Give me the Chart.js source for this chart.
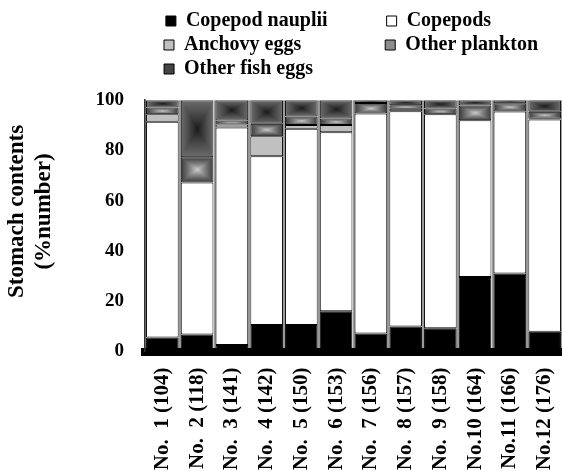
<!DOCTYPE html>
<html>
<head>
<meta charset="utf-8">
<script src="https://cdn.jsdelivr.net/npm/chart.js@4.4.1/dist/chart.umd.min.js"></script>
<style>
  body { margin: 0; background: #fff; }
  canvas { display: block; }
</style>
</head>
<body>
<canvas id="myChart" width="562" height="471"></canvas>
<script>
var CATEGORIES = ["No.  1 (104)","No.  2 (118)","No.  3 (141)","No.  4 (142)","No.  5 (150)","No.  6 (153)",
                  "No.  7 (156)","No.  8 (157)","No.  9 (158)","No.10 (164)","No.11 (166)","No.12 (176)"]
var SERIES_NAMES = ["Copepod nauplii","Copepods","Anchovy eggs","Other plankton","Other fish eggs"]
var NAUPLII  = [5.6, 6.8, 2.6, 10.5, 10.5, 16.0, 7.2, 9.9, 9.3, 29.6, 31.0, 7.9]
var COPEPODS = [85.8, 60.5, 86.5, 67.2, 78.1, 71.2, 87.5, 85.7, 85.1, 62.4, 64.5, 84.4]
var ANCHOVY  = [3.0, 0, 1.2, 8.0, 1.5, 2.9, 0, 1.0, 0, 0, 0, 0.3]
var PLANKTON = [2.7, 10.0, 1.6, 4.9, 3.4, 2.6, 4.2, 1.4, 2.3, 5.9, 3.3, 2.8]
var FISHEGGS = [2.9, 22.7, 8.1, 9.4, 6.5, 7.3, 1.1, 2.0, 3.3, 2.1, 1.2, 4.6]
var Y_TICKS = [0, 20, 40, 60, 80, 100]

var FONT = "'Liberation Serif', 'Times New Roman', serif"
var BAR_PCT = 0.94

function grey(v) {
  return "rgb(" + v + "," + v + "," + v + ")"
}

// rectangular "box" gradient, lighter or darker toward the middle of the bar
function boxPattern(ctx, x0, y0, w, h, inner, outer) {
  var W = Math.max(1, Math.round(w)), H = Math.max(1, Math.round(h))
  var c = document.createElement("canvas")
  c.width = W; c.height = H
  var g = c.getContext("2d")
  var img = g.createImageData(W, H)
  for (var y = 0; y < H; y++) {
    for (var x = 0; x < W; x++) {
      var t = Math.max(Math.abs(x + 0.5 - W / 2) / (W / 2), Math.abs(y + 0.5 - H / 2) / (H / 2))
      var v = Math.round(inner + (outer - inner) * Math.pow(t, 0.8))
      var k = (y * W + x) * 4
      img.data[k] = v; img.data[k + 1] = v; img.data[k + 2] = v; img.data[k + 3] = 255
    }
  }
  g.putImageData(img, 0, 0)
  var p = ctx.createPattern(c, "no-repeat")
  p.setTransform(new DOMMatrix([1, 0, 0, 1, x0, y0]))
  return p
}

function boxFill(inner, outer) {
  return function (c) {
    var chart = c.chart
    var xs = chart.scales.x, ys = chart.scales.y
    if (c.type !== "data" || !xs || !ys) return grey(outer)
    var i = c.dataIndex
    var lo = 0
    for (var k = 0; k < c.datasetIndex; k++) lo += chart.data.datasets[k].data[i]
    var hi = lo + chart.data.datasets[c.datasetIndex].data[i]
    var w = xs.width / CATEGORIES.length * BAR_PCT
    var x0 = xs.getPixelForValue(i) - w / 2
    var y0 = ys.getPixelForValue(hi), y1 = ys.getPixelForValue(lo)
    if (y1 - y0 < 1) return grey(outer)
    return boxPattern(chart.ctx, x0, y0, w, y1 - y0, inner, outer)
  }
}

// text widths so the legend lines up in two columns
var LEGEND_TEXT_W = [199, 139, 199, 139, 363]
var LEGEND_FILL = ["#000000", "#ffffff", "#c0c0c0", "#8c8c8c", "#444444"]

function padText(ctx, text, target) {
  var s = text
  while (ctx.measureText(s + " ").width <= target) s += " "
  return s
}

var datasets = [
  { label: SERIES_NAMES[0], data: NAUPLII, backgroundColor: "#000000" },
  { label: SERIES_NAMES[1], data: COPEPODS, backgroundColor: "#ffffff" },
  { label: SERIES_NAMES[2], data: ANCHOVY, backgroundColor: "#c0c0c0" },
  { label: SERIES_NAMES[3], data: PLANKTON, backgroundColor: boxFill(212, 58) },
  { label: SERIES_NAMES[4], data: FISHEGGS, backgroundColor: boxFill(22, 108) }
]
datasets.forEach(function (d) {
  d.borderColor = "#000000"
  d.borderWidth = 1
  d.borderSkipped = false
  d.barPercentage = BAR_PCT
  d.categoryPercentage = 1.0
})

var config = {
  type: "bar",
  data: { labels: CATEGORIES, datasets: datasets },
  options: {
    responsive: false,
    animation: false,
    devicePixelRatio: 1,
    layout: { autoPadding: false, padding: { top: 7, right: 0, left: 0, bottom: 0 } },
    plugins: {
      tooltip: { enabled: false },
      // empty title used only as a gap between the legend and the plot
      title: { display: true, text: "", weight: 500, fullSize: false,
               font: { size: 1 }, padding: { top: 0, bottom: 10 } },
      legend: {
        position: "top",
        fullSize: false,
        align: "center",
        labels: {
          color: "#000",
          font: { family: FONT, size: 20, weight: "bold" },
          boxWidth: 10,
          boxHeight: 10,
          padding: 4,
          generateLabels: function (chart) {
            var ctx = chart.ctx
            ctx.save()
            ctx.font = "bold 20px " + FONT
            var items = chart.data.datasets.map(function (d, i) {
              return {
                text: padText(ctx, d.label, LEGEND_TEXT_W[i]),
                fillStyle: LEGEND_FILL[i],
                strokeStyle: "#000",
                lineWidth: 1,
                fontColor: "#000",
                hidden: false,
                datasetIndex: i
              }
            })
            ctx.restore()
            return items
          }
        }
      }
    },
    scales: {
      x: {
        stacked: true,
        offset: true,
        afterFit: function (scale) {
          scale.height = 119.5
          scale.paddingLeft = 0
          scale.paddingRight = 0
        },
        grid: { offset: true, color: "#9b9b9b", lineWidth: 2, drawTicks: false },
        border: { color: "#000", width: 8 },
        ticks: {
          color: "#000",
          font: { family: FONT, size: 21, weight: "bold" },
          minRotation: 90,
          maxRotation: 90,
          autoSkip: false,
          padding: 16
        }
      },
      y: {
        stacked: true,
        min: 0,
        max: 100,
        afterFit: function (scale) {
          scale.width = 145
          scale.paddingTop = 0
          scale.paddingBottom = 0
        },
        afterBuildTicks: function (scale) {
          scale.ticks = Y_TICKS.map(function (v) { return { value: v } })
        },
        grid: { drawOnChartArea: false, drawTicks: false },
        border: { color: "#333", width: 1.5 },
        ticks: {
          color: "#000",
          font: { family: FONT, size: 19, weight: "bold" },
          padding: 21
        },
        title: {
          display: true,
          text: ["     Stomach contents", "     (%number)"],
          color: "#000",
          font: { family: FONT, size: 23, weight: "bold", lineHeight: 1.17 },
          padding: { top: 4, bottom: 0 }
        }
      }
    }
  }
}

var myChart = new Chart(document.getElementById("myChart"), config)
</script>
</body>
</html>
